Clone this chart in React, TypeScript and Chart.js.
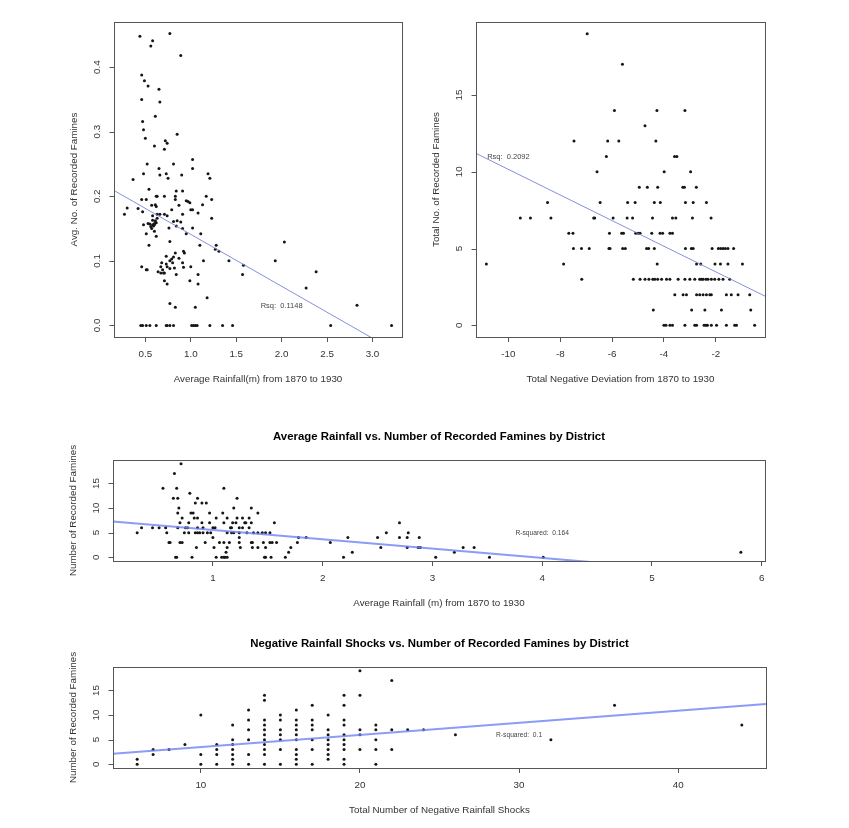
import React, { useEffect, useRef } from 'react';
import { Chart, registerables } from 'chart.js';

Chart.register(...registerables);

const SANS = '"Liberation Sans", Arial, Helvetica, sans-serif';

// ---------- Panel 1: average rainfall vs avg. no. of recorded famines ----------
const rainAvgX1 = [
  0.44, 0.77, 0.58, 0.56, 0.89, 0.46, 0.49, 0.53, 0.65, 0.46, 0.66, 0.61, 0.47, 0.48, 0.85, 0.50, 0.72, 0.74, 0.60, 0.71,
  1.02, 0.52, 0.81, 0.65, 1.02, 0.48, 0.66, 0.73, 0.75, 0.90, 1.19, 1.21, 0.365,
  0.54, 0.84, 0.91, 0.83, 0.46, 0.51, 0.62, 0.63, 0.71, 0.83, 0.95, 0.97, 0.99, 1.17, 1.23,
  0.57, 0.61, 0.62, 0.87, 1.00, 1.13, 0.30, 0.42, 0.27, 0.47, 0.58, 0.63, 0.66, 0.71, 0.74, 0.79, 0.91, 1.02, 1.08, 1.23,
  0.63, 0.58, 0.61, 0.81, 0.85, 0.89, 0.48, 0.53, 0.55, 0.56, 0.58, 0.60, 0.62, 0.57, 0.59, 0.60,
  0.76, 0.84, 0.91, 1.02, 0.51, 0.60, 0.62, 0.95, 1.11,
  0.54, 0.77, 1.10, 1.28, 1.27, 1.31, 1.42, 1.58, 1.57,
  0.92, 0.93, 0.73, 0.83, 0.81, 0.87, 0.79, 0.77, 0.68, 0.73, 0.80, 0.46, 0.51, 0.52, 0.67, 0.74, 0.77, 0.82, 0.91, 0.92, 1.00,
  0.64, 0.67, 0.70, 0.71, 0.69, 0.84, 1.08, 1.14, 0.71, 0.74, 0.99, 1.08, 1.18, 0.77, 0.83, 1.05,
  1.93, 2.03, 2.27, 2.38, 2.83,
  0.45, 0.47, 0.51, 0.55, 0.62, 0.73, 0.74, 0.77, 0.81, 1.01, 1.03, 1.05, 1.07, 1.21, 1.35, 1.46, 2.54, 3.21,
];
const famineRate1 = [
  0.448, 0.452, 0.441, 0.433, 0.418, 0.388, 0.379, 0.371, 0.366, 0.350, 0.346, 0.324, 0.316, 0.303, 0.296, 0.290, 0.286, 0.282, 0.278, 0.273,
  0.257, 0.250, 0.250, 0.243, 0.243, 0.235, 0.233, 0.235, 0.228, 0.233, 0.235, 0.228, 0.226,
  0.211, 0.208, 0.208, 0.200, 0.195, 0.195, 0.200, 0.200, 0.200, 0.195, 0.193, 0.192, 0.190, 0.200, 0.195,
  0.186, 0.187, 0.184, 0.186, 0.179, 0.187, 0.182, 0.181, 0.172, 0.176, 0.170, 0.172, 0.172, 0.172, 0.170, 0.179, 0.172, 0.179, 0.174, 0.166,
  0.166, 0.163, 0.162, 0.161, 0.162, 0.160, 0.156, 0.158, 0.157, 0.153, 0.156, 0.158, 0.159, 0.150, 0.154, 0.156,
  0.151, 0.154, 0.150, 0.151, 0.142, 0.146, 0.138, 0.142, 0.142,
  0.124, 0.130, 0.124, 0.124, 0.118, 0.115, 0.100, 0.093, 0.079,
  0.115, 0.112, 0.107, 0.112, 0.106, 0.104, 0.103, 0.100, 0.097, 0.095, 0.097, 0.091, 0.086, 0.086, 0.091, 0.091, 0.088, 0.089, 0.097, 0.090, 0.091,
  0.083, 0.081, 0.081, 0.081, 0.086, 0.079, 0.079, 0.100, 0.069, 0.064, 0.069, 0.064, 0.043, 0.034, 0.028, 0.028,
  0.100, 0.129, 0.058, 0.083, 0.031,
  0, 0, 0, 0, 0, 0, 0, 0, 0, 0, 0, 0, 0, 0, 0, 0, 0, 0,
];
const fitLineX1 = [0.155, 3.325];
const fitLineY1 = [0.209, -0.046];
const xTicks1 = [0.5, 1.0, 1.5, 2.0, 2.5, 3.0];
const yTicks1 = [0.0, 0.1, 0.2, 0.3, 0.4];

// ---------- Panel 2: total negative deviation vs total famines ----------
const negDevX2 = [
  -6.96,
  -5.60,
  -5.91, -4.27, -3.19,
  -4.73,
  -7.47, -6.17, -5.74, -4.31,
  -6.22, -3.59, -3.50,
  -6.58, -3.99, -2.97,
  -4.95, -4.64, -4.24, -3.27, -3.21, -2.75,
  -8.49, -6.46, -5.40, -5.11, -4.37, -4.14, -3.17, -2.87, -2.36,
  -9.54, -9.15, -8.36, -6.71, -6.67, -5.96, -5.42, -5.21, -4.44, -3.67, -3.54, -2.90, -2.18,
  -7.67, -7.51, -6.10, -5.63, -5.56, -5.09, -4.99, -4.92, -4.47, -4.15, -4.05, -3.77, -3.67,
  -7.49, -7.18, -6.88, -6.12, -6.08, -5.59, -5.49, -4.67, -4.59, -4.37, -3.17, -2.94, -2.87, -2.14, -1.90, -1.81, -1.72, -1.63, -1.53, -1.31,
  -10.85, -7.87, -4.26, -2.74, -2.58, -2.03, -1.82, -1.53, -0.97,
  -7.17, -5.18, -4.92, -4.73, -4.58, -4.43, -4.35, -4.24, -4.09, -3.90, -3.77, -3.45, -3.19, -3.00, -2.81, -2.62, -2.55, -2.49, -2.38, -2.30, -2.17, -2.04, -1.88, -1.72, -1.46,
  -3.58, -3.26, -3.13, -2.74, -2.62, -2.49, -2.36, -2.23, -2.17, -1.59, -1.40, -1.14, -0.69,
  -4.41, -2.93, -2.42, -1.78, -0.65,
  -4.00, -3.92, -3.77, -3.67, -3.19, -2.81, -2.74, -2.45, -2.38, -2.32, -2.17, -1.97, -1.59, -1.27, -1.20, -0.50,
];
const famines2 = [
  19,
  17,
  14, 14, 14,
  13,
  12, 12, 12, 12,
  11, 11, 11,
  10, 10, 10,
  9, 9, 9, 9, 9, 9,
  8, 8, 8, 8, 8, 8, 8, 8, 8,
  7, 7, 7, 7, 7, 7, 7, 7, 7, 7, 7, 7, 7,
  6, 6, 6, 6, 6, 6, 6, 6, 6, 6, 6, 6, 6,
  5, 5, 5, 5, 5, 5, 5, 5, 5, 5, 5, 5, 5, 5, 5, 5, 5, 5, 5, 5,
  4, 4, 4, 4, 4, 4, 4, 4, 4,
  3, 3, 3, 3, 3, 3, 3, 3, 3, 3, 3, 3, 3, 3, 3, 3, 3, 3, 3, 3, 3, 3, 3, 3, 3,
  2, 2, 2, 2, 2, 2, 2, 2, 2, 2, 2, 2, 2,
  1, 1, 1, 1, 1,
  0, 0, 0, 0, 0, 0, 0, 0, 0, 0, 0, 0, 0, 0, 0, 0,
];
const fitLineX2 = [-11.25, -0.10];
const fitLineY2 = [11.2, 1.9];
const xTicks2 = [-10, -8, -6, -4, -2];
const yTicks2 = [0, 5, 10, 15];

// ---------- Panel 3: average rainfall vs number of famines ----------
const rainAvgX3 = [
  0.71, 0.65, 0.545, 0.67, 1.10, 0.79, 0.64, 0.68, 0.86, 1.22,
  0.84, 0.90, 0.94, 0.69, 1.19, 1.35,
  0.68, 0.80, 0.82, 0.97, 1.09, 1.41,
  0.72, 0.83, 0.86, 1.03, 1.13, 1.22, 1.27, 1.33,
  0.70, 0.78, 0.90, 0.97, 1.10, 1.18, 1.21, 1.29, 1.30, 1.35, 1.56, 2.70,
  0.35, 0.45, 0.51, 0.57, 0.68, 0.75, 0.77, 0.86, 0.91, 1.00, 1.02, 1.16, 1.17, 1.24, 1.27, 1.33,
  0.31, 0.58, 0.74, 0.78, 0.84, 0.86, 0.88, 0.91, 0.95, 0.98, 1.13, 1.17, 1.19, 1.24, 1.31, 1.37, 1.41, 1.45, 1.48, 1.52, 2.58, 2.78,
  1.00, 1.24, 1.78, 1.85, 2.23, 2.50, 2.70, 2.77, 2.88,
  0.60, 0.61, 0.70, 0.72, 0.93, 1.06, 1.10, 1.15, 1.24, 1.35, 1.36, 1.46, 1.52, 1.54, 1.58, 1.77, 2.07,
  0.85, 1.01, 1.13, 1.25, 1.36, 1.41, 1.48, 1.71, 2.53, 2.77, 2.87, 2.89, 3.28, 3.38,
  1.12, 1.69, 2.27, 3.20, 5.81,
  0.66, 0.67, 0.81, 1.03, 1.08, 1.10, 1.11, 1.13, 1.47, 1.48, 1.53, 1.66, 2.19, 3.03, 3.52, 4.01,
];
const famines3 = [
  19, 17, 14, 14, 14, 13, 12, 12, 12, 12,
  11, 11, 11, 10, 10, 10,
  9, 9, 9, 9, 9, 9,
  8, 8, 8, 8, 8, 8, 8, 8,
  7, 7, 7, 7, 7, 7, 7, 7, 7, 7, 7, 7,
  6, 6, 6, 6, 6, 6, 6, 6, 6, 6, 6, 6, 6, 6, 6, 6,
  5, 5, 5, 5, 5, 5, 5, 5, 5, 5, 5, 5, 5, 5, 5, 5, 5, 5, 5, 5, 5, 5,
  4, 4, 4, 4, 4, 4, 4, 4, 4,
  3, 3, 3, 3, 3, 3, 3, 3, 3, 3, 3, 3, 3, 3, 3, 3, 3,
  2, 2, 2, 2, 2, 2, 2, 2, 2, 2, 2, 2, 2, 2,
  1, 1, 1, 1, 1,
  0, 0, 0, 0, 0, 0, 0, 0, 0, 0, 0, 0, 0, 0, 0, 0,
];
const fitLineX3 = [0.09, 6.03];
const fitLineY3 = [7.25, -3.97];
const xTicks3 = [1, 2, 3, 4, 5, 6];
const yTicks3 = [0, 5, 10, 15];

// ---------- Panel 4: negative rainfall shocks vs number of famines ----------
const shocksX4 = [
  6, 6, 7, 7, 8, 9, 10, 10, 10, 11, 11, 11, 11,
  12, 12, 12, 12, 12, 12, 12,
  13, 13, 13, 13, 13, 13,
  14, 14, 14, 14, 14, 14, 14, 14, 14, 14, 14,
  15, 15, 15, 15, 15, 15, 15,
  16, 16, 16, 16, 16, 16, 16, 16, 16, 16,
  17, 17, 17, 17, 17, 17, 17,
  18, 18, 18, 18, 18, 18, 18, 18,
  19, 19, 19, 19, 19, 19, 19, 19, 19, 19,
  20, 20, 20, 20, 20,
  21, 21, 21, 21, 21,
  22, 22, 22, 23, 24, 26, 32, 36, 44,
];
const famines4 = [
  1, 0, 3, 2, 3, 4, 10, 2, 0, 4, 3, 2, 0,
  8, 5, 4, 3, 2, 1, 0,
  11, 9, 7, 5, 2, 0,
  14, 13, 9, 8, 7, 6, 5, 4, 3, 2, 0,
  10, 9, 7, 6, 5, 3, 0,
  11, 9, 8, 7, 6, 5, 3, 2, 1, 0,
  12, 9, 8, 7, 5, 3, 0,
  10, 7, 6, 5, 4, 3, 2, 1,
  14, 12, 9, 8, 6, 5, 4, 3, 1, 0,
  19, 14, 7, 6, 3,
  8, 7, 5, 3, 0,
  17, 7, 3, 7, 7, 6, 5, 12, 8,
];
const fitLineX4 = [4.48, 45.52];
const fitLineY4 = [2.15, 12.25];
const xTicks4 = [10, 20, 30, 40];
const yTicks4 = [0, 5, 10, 15];

type Spec = {
  xs: number[]; ys: number[];
  lx: number[]; ly: number[];
  xMin: number; xMax: number; yMin: number; yMax: number;
  xTicks: number[]; yTicks: number[]; xDec: number; yDec: number;
  box: { l: number; t: number; r: number; b: number };
  title?: string; xTitle: string; yTitle: string;
  note: string; noteX: number; noteY: number; noteSize: number;
  lineColor: string; lineWidth: number;
};

const W = 849;
const H = 828;
const AXIS_FONT = 9.8;
const X_AXIS_H = 30;

const specs: Spec[] = [
  {
    xs: rainAvgX1, ys: famineRate1, lx: fitLineX1, ly: fitLineY1,
    xMin: 0.155, xMax: 3.325, yMin: -0.018, yMax: 0.47,
    xTicks: xTicks1, yTicks: yTicks1, xDec: 1, yDec: 1,
    box: { l: 114, t: 22, r: 402, b: 337 },
    xTitle: 'Average Rainfall(m) from 1870 to 1930', yTitle: 'Avg. No. of Recorded Famines',
    note: 'Rsq:  0.1148', noteX: 2.0, noteY: 0.03, noteSize: 7.5,
    lineColor: 'rgba(120,132,215,0.9)', lineWidth: 1,
  },
  {
    xs: negDevX2, ys: famines2, lx: fitLineX2, ly: fitLineY2,
    xMin: -11.25, xMax: -0.10, yMin: -0.76, yMax: 19.76,
    xTicks: xTicks2, yTicks: yTicks2, xDec: 0, yDec: 0,
    box: { l: 476, t: 22, r: 765, b: 337 },
    xTitle: 'Total Negative Deviation from 1870 to 1930', yTitle: 'Total No. of Recorded Famines',
    note: 'Rsq:  0.2092', noteX: -10, noteY: 11, noteSize: 7.5,
    lineColor: 'rgba(120,132,215,0.9)', lineWidth: 1,
  },
  {
    xs: rainAvgX3, ys: famines3, lx: fitLineX3, ly: fitLineY3,
    xMin: 0.09, xMax: 6.03, yMin: -0.76, yMax: 19.76,
    xTicks: xTicks3, yTicks: yTicks3, xDec: 0, yDec: 0,
    box: { l: 113, t: 460, r: 765, b: 561 },
    title: 'Average Rainfall vs. Number of Recorded Famines by District',
    xTitle: 'Average Rainfall (m) from 1870 to 1930', yTitle: 'Number of Recorded Famines',
    note: 'R-squared:  0.164', noteX: 4, noteY: 5, noteSize: 6.7,
    lineColor: 'rgba(110,130,245,0.8)', lineWidth: 2,
  },
  {
    xs: shocksX4, ys: famines4, lx: fitLineX4, ly: fitLineY4,
    xMin: 4.48, xMax: 45.52, yMin: -0.76, yMax: 19.76,
    xTicks: xTicks4, yTicks: yTicks4, xDec: 0, yDec: 0,
    box: { l: 113, t: 667, r: 766, b: 768 },
    title: 'Negative Rainfall Shocks vs. Number of Recorded Famines by District',
    xTitle: 'Total Number of Negative Rainfall Shocks', yTitle: 'Number of Recorded Famines',
    note: 'R-squared:  0.1', noteX: 30, noteY: 6, noteSize: 6.7,
    lineColor: 'rgba(110,130,245,0.8)', lineWidth: 2,
  },
];

function framePlugin(spec: Spec) {
  return {
    id: 'rframe',
    afterDraw(chart: any) {
      const { ctx, chartArea: a } = chart;
      const xs = chart.scales.x;
      const ys = chart.scales.y;
      ctx.save();
      ctx.strokeStyle = '#555';
      ctx.lineWidth = 1;
      const L = Math.round(a.left) + 0.5;
      const B = Math.round(a.bottom) + 0.5;
      ctx.strokeRect(L, Math.round(a.top) + 0.5, Math.round(a.right) - Math.round(a.left), Math.round(a.bottom) - Math.round(a.top));
      // x axis line spanning ticks
      ctx.beginPath();
      ctx.moveTo(xs.getPixelForValue(spec.xTicks[0]), B);
      ctx.lineTo(xs.getPixelForValue(spec.xTicks[spec.xTicks.length - 1]), B);
      // y axis with ticks
      const yt = spec.yTicks;
      ctx.moveTo(L, ys.getPixelForValue(yt[0]));
      ctx.lineTo(L, ys.getPixelForValue(yt[yt.length - 1]));
      for (const v of yt) {
        const py = Math.round(ys.getPixelForValue(v)) + 0.5;
        ctx.moveTo(L, py);
        ctx.lineTo(L - 5, py);
      }
      ctx.stroke();

      ctx.fillStyle = '#333';
      ctx.textAlign = 'center';
      ctx.textBaseline = 'middle';
      ctx.font = `${AXIS_FONT}px ${SANS}`;
      for (const v of yt) {
        const py = ys.getPixelForValue(v);
        ctx.save();
        ctx.translate(a.left - 17, py);
        ctx.rotate(-Math.PI / 2);
        ctx.fillText(v.toFixed(spec.yDec), 0, 0);
        ctx.restore();
      }
      ctx.save();
      ctx.translate(a.left - 40, (a.top + a.bottom) / 2);
      ctx.rotate(-Math.PI / 2);
      ctx.fillText(spec.yTitle, 0, 0);
      ctx.restore();
      ctx.fillText(spec.xTitle, (a.left + a.right) / 2, a.bottom + 42);
      if (spec.title) {
        ctx.fillStyle = '#000';
        ctx.font = `bold 11.4px ${SANS}`;
        ctx.fillText(spec.title, (a.left + a.right) / 2, a.top - 23);
      }
      ctx.fillStyle = '#444';
      ctx.font = `${spec.noteSize}px ${SANS}`;
      ctx.fillText(spec.note, xs.getPixelForValue(spec.noteX), ys.getPixelForValue(spec.noteY));
      ctx.restore();
    },
  };
}

function Panel({ spec }: { spec: Spec }) {
  const ref = useRef<HTMLCanvasElement>(null);
  useEffect(() => {
    const canvas = ref.current;
    if (!canvas) return;
    const pts = spec.xs.map((x, i) => ({ x, y: spec.ys[i] }));
    const linePts = spec.lx.map((x, i) => ({ x, y: spec.ly[i] }));
    const chart = new Chart(canvas, {
      type: 'scatter',
      data: {
        datasets: [
          {
            type: 'line',
            data: linePts,
            borderColor: spec.lineColor,
            borderWidth: spec.lineWidth,
            pointRadius: 0,
            fill: false,
            tension: 0,
          } as any,
          {
            type: 'scatter',
            data: pts,
            pointRadius: 1.5,
            pointBackgroundColor: '#151515',
            pointBorderWidth: 0,
            borderWidth: 0,
          } as any,
        ],
      },
      options: {
        responsive: false,
        animation: false,
        devicePixelRatio: 1,
        events: [],
        layout: {
          padding: { left: spec.box.l, top: spec.box.t, right: W - spec.box.r, bottom: H - spec.box.b - X_AXIS_H },
        },
        plugins: { legend: { display: false }, tooltip: { enabled: false }, title: { display: false } },
        scales: {
          x: {
            type: 'linear',
            position: 'bottom',
            min: spec.xMin,
            max: spec.xMax,
            afterBuildTicks: (s: any) => {
              s.ticks = spec.xTicks.map((v) => ({ value: v }));
            },
            afterFit: (s: any) => {
              s.height = X_AXIS_H;
            },
            grid: { display: true, drawOnChartArea: false, drawTicks: true, tickLength: 5, color: '#555', lineWidth: 1 },
            border: { display: false },
            ticks: {
              autoSkip: false,
              maxRotation: 0,
              minRotation: 0,
              padding: 6,
              color: '#333',
              font: { family: SANS, size: AXIS_FONT },
              callback: (v: any) => Number(v).toFixed(spec.xDec),
            },
          },
          y: { type: 'linear', display: false, min: spec.yMin, max: spec.yMax },
        },
      } as any,
      plugins: [framePlugin(spec)],
    });
    return () => chart.destroy();
  }, [spec]);
  return (
    <canvas
      ref={ref}
      width={W}
      height={H}
      style={{ position: 'absolute', left: 0, top: 0, width: W, height: H }}
    />
  );
}

export default function App() {
  return (
    <div style={{ position: 'absolute', left: 0, top: 0, width: W, height: H, background: '#fff' }}>
      {specs.map((s, i) => (
        <Panel key={i} spec={s} />
      ))}
    </div>
  );
}
